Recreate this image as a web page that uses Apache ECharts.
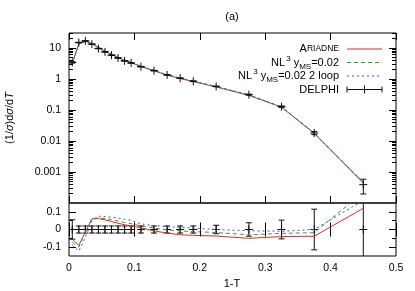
<!DOCTYPE html>
<html><head><meta charset="utf-8">
<script src="https://cdn.jsdelivr.net/npm/echarts@6/dist/echarts.min.js"></script>
<style>html,body{margin:0;padding:0;background:#fff}#c{width:415px;height:291px}</style>
</head><body><div id="c"></div>
<script>
// ---- data ----
const xCenters = [0.005,0.015,0.025,0.035,0.045,0.055,0.065,0.075,0.085,0.095,0.11,0.13,0.15,0.17,0.19,0.225,0.275,0.325,0.375,0.45];
const delphi = [3.4,14.8,16.7,13.1,9.5,7.4,5.8,4.7,3.8,3.25,2.47,1.84,1.34,1.05,0.84,0.57,0.31,0.127,0.018,0.00039];
const delphiRelErr = [0.055,0.02,0.02,0.02,0.02,0.02,0.02,0.02,0.02,0.02,0.02,0.02,0.02,0.02,0.02,0.024,0.038,0.053,0.115,0.5];
const ariadneTop = [3.21,13.5,16.45,13.9,10.1,7.8,6.06,4.86,3.9,3.32,2.49,1.825,1.313,1.019,0.812,0.549,0.2945,0.122,0.0173,0.00044];
const nl3Top = [3.16,13.3,16.45,13.9,10.1,7.86,6.12,4.93,3.95,3.36,2.52,1.855,1.337,1.042,0.83,0.56,0.301,0.124,0.0177,0.00047];
const nl3LoopTop = [3.10,13.0,15.95,13.73,10.2,7.94,6.2,5.0,4.02,3.42,2.55,1.88,1.36,1.063,0.847,0.57,0.308,0.1257,0.018,0.00046];
const ariadneRatio = [-0.055,-0.09,-0.015,0.06,0.062,0.055,0.045,0.035,0.027,0.02,0.01,-0.008,-0.02,-0.03,-0.033,-0.037,-0.05,-0.04,-0.038,0.12];
const nl3Ratio = [-0.072,-0.1,-0.015,0.063,0.065,0.062,0.055,0.048,0.04,0.033,0.02,0.008,-0.002,-0.008,-0.012,-0.017,-0.03,-0.022,-0.018,0.21];
const nl3LoopRatio = [-0.088,-0.122,-0.045,0.048,0.075,0.073,0.07,0.065,0.058,0.052,0.032,0.022,0.016,0.012,0.008,0.0,-0.007,-0.01,0.0,0.165];
const xTickLabels = [0,0.1,0.2,0.3,0.4,0.5];
const logMajorTicks = [0.001,0.01,0.1,1,10];
const ratioMajorTicks = [-0.1,0,0.1];
const ratioMinorTicks = [-0.05,0.05];

// minor log ticks 2..9 per decade
const logMinorTicks = [];
for (let e = -4; e <= 1; e++) for (let k = 2; k <= 9; k++) { const v = k * Math.pow(10, e); if (v <= 30) logMinorTicks.push(+v.toPrecision(3)); }

const FONT = 'Liberation Sans, Arial, Helvetica, sans-serif';
const RED = '#e8262a', GREEN = '#2aa22a', BLUE = '#4a4aee';

const chart = echarts.init(document.getElementById('c'), null, {renderer: 'canvas'});

const G0 = {left: 69, top: 33, width: 327, height: 170};
const G1 = {left: 69, top: 203, width: 327, height: 53};

function xAx(grid, pos, labels) {
  return {type: 'value', gridIndex: grid, position: pos, min: 0, max: 0.5, interval: 0.1,
    axisLine: {show: false}, splitLine: {show: false},
    axisTick: {show: true, inside: true, length: 7, lineStyle: {color: '#000', width: 1}},
    axisLabel: {show: labels, margin: 7, color: '#000', fontFamily: FONT, fontSize: 10.5,
      formatter: v => (xTickLabels.indexOf(v) >= 0 ? String(v) : '')}};
}
function logAx(pos, major) {
  return {type: 'log', gridIndex: 0, position: pos, min: 0.0001, max: 30, logBase: 10,
    axisLine: {show: false}, splitLine: {show: false}, minorTick: {show: false},
    axisTick: {show: true, inside: true, length: major ? 7 : 4, customValues: major ? logMajorTicks : logMinorTicks,
      lineStyle: {color: '#000', width: 1}},
    axisLabel: {show: major && pos === 'left', customValues: logMajorTicks, margin: 8, color: '#000',
      fontFamily: FONT, fontSize: 10.5, formatter: v => String(+(+v).toPrecision(3))}};
}
function ratioAx(pos, major) {
  return {type: 'value', gridIndex: 1, position: pos, min: -0.15, max: 0.15,
    axisLine: {show: false}, splitLine: {show: false},
    axisTick: {show: true, inside: true, length: major ? 7 : 4, customValues: major ? ratioMajorTicks : ratioMinorTicks,
      lineStyle: {color: '#000', width: 1}},
    axisLabel: {show: major && pos === 'left', customValues: ratioMajorTicks, margin: 8, color: '#000',
      fontFamily: FONT, fontSize: 10.5, formatter: v => String(+(+v).toFixed(2))}};
}

function errRender(params, api) {
  const x = api.value(0), y = api.value(1), lo = api.value(2), hi = api.value(3);
  const c = api.coord([x, y]), cl = api.coord([x, lo]), ch = api.coord([x, hi]);
  const cap = 3, m = 4;
  const st = {stroke: '#111', lineWidth: 1, fill: null};
  const L = (x1, y1, x2, y2) => ({type: 'line', shape: {x1, y1, x2, y2}, style: st});
  return {type: 'group', children: [
    L(cl[0], cl[1], ch[0], ch[1]),
    L(cl[0] - cap, cl[1], cl[0] + cap, cl[1]),
    L(ch[0] - cap, ch[1], ch[0] + cap, ch[1]),
    L(c[0] - m, c[1], c[0] + m, c[1]),
    L(c[0], c[1] - m, c[0], c[1] + m)
  ]};
}

function lineSeries(xi, yi, vals, color, type, z) {
  return {type: 'line', xAxisIndex: xi, yAxisIndex: yi, data: xCenters.map((x, i) => [x, vals[i]]),
    showSymbol: false, symbol: 'none', clip: true, z: z, silent: true,
    lineStyle: {color: color, width: 1, type: type}};
}

const topErr = xCenters.map((x, i) => [x, delphi[i], delphi[i] * (1 - delphiRelErr[i]), delphi[i] * (1 + delphiRelErr[i])]);
const botErr = xCenters.map((x, i) => [x, 0, -delphiRelErr[i], delphiRelErr[i]]);

const legendX = 339, lineX1 = 347, lineX2 = 382;
const legendRows = [49, 62.5, 76, 89.5];
const rich = {
  n: {fontSize: 11, fontFamily: FONT, color: '#000', lineHeight: 16, verticalAlign: 'middle'},
  s: {fontSize: 8.5, fontFamily: FONT, color: '#000', lineHeight: 16, verticalAlign: 'middle'},
  sup: {fontSize: 8, fontFamily: FONT, color: '#000', lineHeight: 16, verticalAlign: 'top', padding: [0, 0, 0, 1]},
  sub: {fontSize: 8, fontFamily: FONT, color: '#000', lineHeight: 16, verticalAlign: 'bottom'}
};
function legText(t, y) {
  return {type: 'text', x: legendX, y: y, style: {text: t, rich: rich, align: 'right', verticalAlign: 'middle'}};
}
function legLine(y, color, dash) {
  return {type: 'line', shape: {x1: lineX1, y1: y, x2: lineX2, y2: y}, style: {stroke: color, lineWidth: 1, lineDash: dash}};
}

const option = {
  animation: false,
  backgroundColor: '#fff',
  grid: [
    Object.assign({show: true, borderColor: '#000', borderWidth: 1, backgroundColor: 'transparent'}, G0),
    Object.assign({show: true, borderColor: '#000', borderWidth: 1, backgroundColor: 'transparent'}, G1)
  ],
  xAxis: [xAx(0, 'bottom', false), xAx(0, 'top', false), xAx(1, 'bottom', true), xAx(1, 'top', false)],
  yAxis: [logAx('left', true), logAx('left', false), logAx('right', true), logAx('right', false),
          ratioAx('left', true), ratioAx('left', false), ratioAx('right', true), ratioAx('right', false)],
  series: [
    lineSeries(0, 0, ariadneTop, RED, 'solid', 2),
    lineSeries(0, 0, nl3Top, GREEN, [4, 3], 3),
    lineSeries(0, 0, nl3LoopTop, BLUE, [2, 3], 4),
    {type: 'custom', xAxisIndex: 0, yAxisIndex: 0, data: topErr, renderItem: errRender, clip: true, z: 5, silent: true,
      encode: {x: 0, y: 1}},
    {type: 'custom', xAxisIndex: 2, yAxisIndex: 4, data: botErr, renderItem: errRender, clip: true, z: 1, silent: true,
      encode: {x: 0, y: 1}},
    lineSeries(2, 4, ariadneRatio, RED, 'solid', 2),
    lineSeries(2, 4, nl3Ratio, GREEN, [4, 3], 3),
    lineSeries(2, 4, nl3LoopRatio, BLUE, [2, 3], 4)
  ],
  graphic: [
    {type: 'text', x: 232, y: 17, style: {text: '(a)', fontFamily: FONT, fontSize: 11, fill: '#000', align: 'center', verticalAlign: 'middle'}},
    {type: 'text', x: 232, y: 284, style: {text: '1-T', fontFamily: FONT, fontSize: 11, fill: '#000', align: 'center', verticalAlign: 'middle'}},
    {type: 'text', x: 10, y: 118, rotation: Math.PI / 2,
      style: {text: '{n|(1/}{i|σ}{n|)d}{i|σ}{n|/d}{i|T}', align: 'center', verticalAlign: 'middle',
        rich: {n: {fontSize: 11, fontFamily: FONT, color: '#000'}, i: {fontSize: 11, fontFamily: FONT, fontStyle: 'italic', color: '#000'}}}},
    legText('{n|A}{s|RIADNE}', legendRows[0]),
    legText('{n|NL}{sup|3}{n| y}{sub|MS}{n|=0.02}', legendRows[1]),
    legText('{n|NL}{sup|3}{n| y}{sub|MS}{n|=0.02 2 loop}', legendRows[2]),
    legText('{n|DELPHI}', legendRows[3]),
    legLine(legendRows[0], RED, null),
    legLine(legendRows[1], GREEN, [4, 3]),
    legLine(legendRows[2], BLUE, [2, 3]),
    legLine(legendRows[3], '#111', null),
    {type: 'line', shape: {x1: lineX1, y1: legendRows[3] - 3, x2: lineX1, y2: legendRows[3] + 3}, style: {stroke: '#111', lineWidth: 1}},
    {type: 'line', shape: {x1: lineX2, y1: legendRows[3] - 3, x2: lineX2, y2: legendRows[3] + 3}, style: {stroke: '#111', lineWidth: 1}},
    {type: 'line', shape: {x1: (lineX1 + lineX2) / 2, y1: legendRows[3] - 4, x2: (lineX1 + lineX2) / 2, y2: legendRows[3] + 4}, style: {stroke: '#111', lineWidth: 1}}
  ]
};
chart.setOption(option);
</script>
</body></html>
